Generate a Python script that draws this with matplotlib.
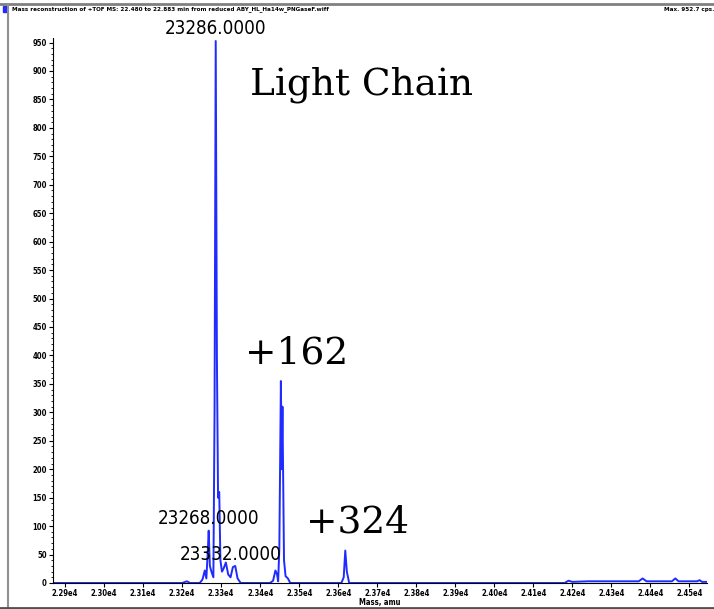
import matplotlib
matplotlib.use("Agg")
from matplotlib import pyplot as plt
from matplotlib import font_manager
from matplotlib.lines import Line2D
from matplotlib.patches import Rectangle

# spectrum profile (mass in amu, intensity in cps)
mass = [22870, 23200, 23212, 23220, 23245, 23252, 23258, 23262, 23266, 23268,
        23271, 23275, 23280, 23283, 23286, 23289, 23292, 23295, 23298, 23302,
        23306, 23312, 23318, 23324, 23330, 23336, 23342, 23350, 23425, 23433,
        23439, 23443, 23446, 23449, 23453, 23455, 23457, 23461, 23465, 23471,
        23477, 23608, 23614, 23618, 23622, 23628, 24180, 24190, 24200, 24240,
        24300, 24370, 24380, 24390, 24455, 24464, 24472, 24520, 24526, 24532, 24545]
intensity = [0, 0, 3, 0, 0, 6, 22, 8, 60, 92,
             30, 20, 10, 300, 952.7, 400, 150, 160, 40, 20,
             25, 36, 15, 10, 28, 30, 8, 0, 0, 4,
             22, 16, 3, 60, 355, 200, 310, 40, 12, 8,
             0, 0, 10, 57, 20, 0, 0, 4, 2, 3,
             3, 3, 8, 3, 3, 8, 3, 3, 5, 2, 2]

x_ticks = [22900 + 100 * i for i in range(17)]
x_tick_labels = ["%.2fe4" % (t / 1e4) for t in x_ticks]
y_ticks = list(range(0, 951, 50))

peak_labels = ["23286.0000", "23268.0000", "23332.0000"]
notes = ["Light Chain", "+162", "+324"]

names = {f.name for f in font_manager.fontManager.ttflist}
if "Liberation Sans Narrow" in names:
    narrow = ["Liberation Sans Narrow", "DejaVu Sans"]
    stretch = "normal"
else:
    narrow = ["DejaVu Sans"]
    stretch = "condensed"

fig = plt.figure(figsize=(7.14, 6.09), dpi=100)
ax = fig.add_axes([53 / 714, 26 / 609, 654 / 714, 545 / 609])

ax.plot(mass, intensity, color="#1f2bff", lw=1.4)
ax.set_xlim(22869, 24545)
ax.set_ylim(0, 958)

for s in ["top", "right"]:
    ax.spines[s].set_visible(False)
ax.spines["left"].set_linewidth(0.8)
ax.spines["bottom"].set_linewidth(0.8)

ax.set_yticks(y_ticks)
ax.set_yticks(range(0, 951, 10), minor=True)
ax.set_yticklabels([str(v) for v in y_ticks], fontsize=5.5, fontweight="bold", family=narrow,
                   fontstretch=stretch)
ax.set_xticks(x_ticks)
ax.set_xticklabels(x_tick_labels, fontsize=5.5, fontweight="bold", family=narrow,
                   fontstretch=stretch)
ax.tick_params(axis="both", which="major", length=3, width=0.8, pad=1.5)
ax.tick_params(axis="y", which="minor", length=1.5, width=0.6)
ax.set_xlabel("Mass, amu", fontsize=5.5, fontweight="bold", family=narrow, fontstretch=stretch,
              labelpad=0)

# peak annotations
lab = dict(fontsize=13.5, family=narrow, fontstretch=stretch)
ax.text(23286, 958, peak_labels[0], ha="center", va="bottom", clip_on=False, **lab)
ax.text(23268, 97, peak_labels[1], ha="center", va="bottom", **lab)
ax.text(23325, 33, peak_labels[2], ha="center", va="bottom", **lab)

ax.text(23375, 858, notes[0], ha="left", va="baseline", fontsize=27, family="DejaVu Serif")
ax.text(23362, 385, notes[1], ha="left", va="baseline", fontsize=27, family="DejaVu Serif")
ax.text(23518, 88, notes[2], ha="left", va="baseline", fontsize=27, family="DejaVu Serif")

# window frame and header
fig.add_artist(Line2D([0, 1], [1 - 4 / 609, 1 - 4 / 609], color="#808080", lw=2))
fig.add_artist(Line2D([8 / 714, 8 / 714], [0, 1 - 4 / 609], color="#909090", lw=1.5))
fig.add_artist(Line2D([0, 1], [1.5 / 609, 1.5 / 609], color="#505050", lw=2))
fig.add_artist(Rectangle((3 / 714, 1 - 12 / 609), 4 / 714, 6 / 609, color="#1f2bff"))
fig.text(12 / 714, 1 - 9 / 609,
         "Mass reconstruction of +TOF MS: 22.480 to 22.883 min from reduced ABY_HL_Ha14w_PNGaseF.wiff",
         fontsize=4.5, fontweight="bold", family=narrow, fontstretch=stretch, va="center")
fig.text(1.0, 1 - 9 / 609, "Max. 952.7 cps.", fontsize=4.5, fontweight="bold", family=narrow,
         fontstretch=stretch, va="center", ha="right")

fig.savefig("out.png", dpi=100)
